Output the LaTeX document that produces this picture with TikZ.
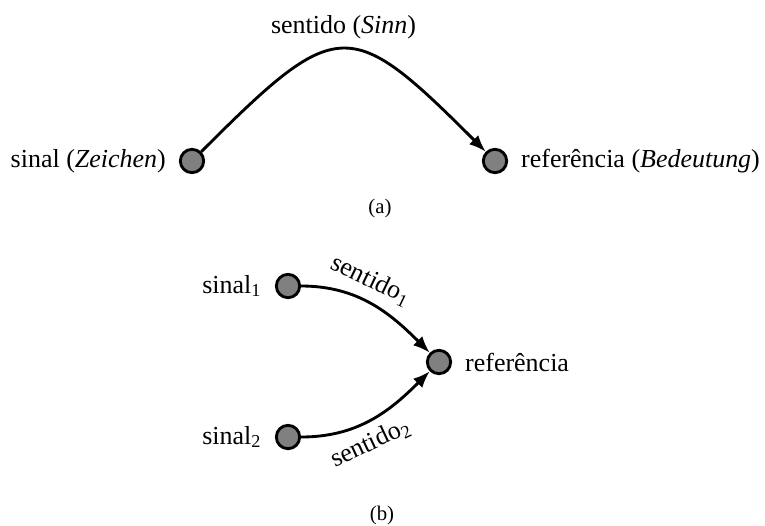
\documentclass[tikz,border=0pt]{standalone}
\usepackage{fontspec}
\setmainfont{Liberation Serif}
\usetikzlibrary{arrows.meta, positioning}
\definecolor{dotgray}{HTML}{808080}

\begin{document}
\begin{tikzpicture}[
    x=0.385pt, y=0.385pt,
    every node/.style={font=\fontsize{10}{12}\selectfont},
    point/.style={circle, draw=black, fill=dotgray, line width=1.1pt,
                  minimum size=9pt, inner sep=0pt},
    arr/.style={-{Latex[length=6.5pt, width=5pt]}, line width=1.1pt},
    subcap/.style={font=\footnotesize},
    label distance=1.5pt
]
\useasboundingbox (0,0) rectangle (765,525);

% (a)
\node[point, label=left:{sinal (\textit{Zeichen})}] (sinal) at (192,364) {};
\node[point, label=right:{referência (\textit{Bedeutung})}] (ref) at (495,364) {};
\node[subcap] (capa) at (380,317) {(a)};

\draw[arr] (sinal) .. controls +(45:206) and +(135:206) ..
    node[above] {sentido (\textit{Sinn})} (ref);

% (b)
\node[point, label=left:{sinal\textsubscript{1}}] (sinal1) at (288,239) {};
\node[point, label=left:{sinal\textsubscript{2}}] (sinal2) at (288,88) {};
\node[point, label=right:{referência}] (refb) at (439,163) {};
\node[subcap] (capb) at (382,10) {(b)};

\draw[arr] (sinal1) to[out=0, in=135]
    node[sloped, above, pos=0.42] {sentido\textsubscript{1}} (refb);
\draw[arr] (sinal2) to[out=0, in=-135]
    node[sloped, below, pos=0.42] {sentido\textsubscript{2}} (refb);

\end{tikzpicture}
\end{document}
